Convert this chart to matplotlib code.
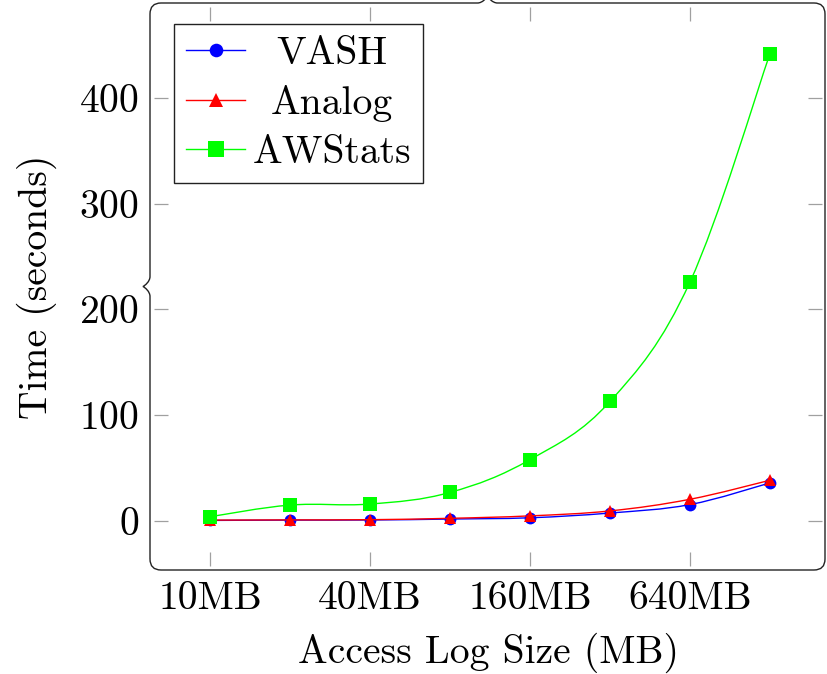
import numpy as np
import matplotlib
matplotlib.use('Agg')
import matplotlib.pyplot as plt
from matplotlib.path import Path
from matplotlib.patches import PathPatch
from matplotlib.lines import Line2D
from matplotlib.transforms import IdentityTransform

# data
sizes = [10, 20, 40, 80, 160, 320, 640, 1280]
tick_sizes = [10, 40, 160, 640]
tick_labels = ['10MB', '40MB', '160MB', '640MB']
y_ticks = [0, 100, 200, 300, 400]
vash = [0.5, 0.8, 0.9, 1.8, 3.0, 7.5, 15.5, 36]
analog = [0.8, 1.0, 1.2, 2.5, 4.8, 9.5, 20.5, 38.5]
awstats = [4, 15, 16, 27, 58, 113, 226, 442]

plt.rcParams['font.family'] = 'cmr10'
plt.rcParams['mathtext.fontset'] = 'cm'
plt.rcParams['axes.unicode_minus'] = False
plt.rcParams['axes.formatter.use_mathtext'] = True
plt.rcParams['font.size'] = 28.5


def smooth_path(x, y, tension=0.18):
    # smooth curve through the points: cubic Bezier pieces in (log2 x, y) space
    u = np.log2(np.asarray(x, float))
    y = np.asarray(y, float)
    n = len(u)
    verts = [(u[0], y[0])]
    codes = [Path.MOVETO]
    for i in range(n - 1):
        i0 = max(i - 1, 0)
        i2 = min(i + 2, n - 1)
        c1 = (u[i] + tension * (u[i + 1] - u[i0]), y[i] + tension * (y[i + 1] - y[i0]))
        c2 = (u[i + 1] - tension * (u[i2] - u[i]), y[i + 1] - tension * (y[i2] - y[i]))
        verts += [c1, c2, (u[i + 1], y[i + 1])]
        codes += [Path.CURVE4] * 3
    verts = np.array(verts)
    verts[:, 0] = 2.0 ** verts[:, 0]
    return Path(verts, codes)


fig = plt.figure(figsize=(8.27, 6.74), dpi=100)
ax = fig.add_axes([154 / 827, 1 - 566 / 674, 668 / 827, 559 / 674])
ax.set_xscale('log', base=2)

series = [
    ('VASH', vash, 'blue', 'o', 8.5),
    ('Analog', analog, 'red', '^', 9),
    ('AWStats', awstats, '#00ff00', 's', 9.5),
]
handles = []
z = 2
for name, vals, col, mk, ms in series:
    ax.add_patch(PathPatch(smooth_path(sizes, vals), facecolor='none', edgecolor=col,
                           lw=1.0, zorder=z))
    ax.plot(sizes, vals, linestyle='none', marker=mk, ms=ms, color=col,
            markeredgewidth=0, zorder=z + 0.5)
    handles.append(Line2D([], [], color=col, lw=1.0, marker=mk, ms=ms * 1.15,
                          markeredgewidth=0, label=name))
    z += 1

ax.set_xlim(10 * 2 ** -0.7, 10 * 2 ** 7.65)
ax.set_ylim(-42.6, 486)
ax.set_xticks(tick_sizes)
ax.set_xticklabels(tick_labels)
ax.minorticks_off()
ax.set_yticks(y_ticks)
ax.tick_params(which='both', direction='in', top=True, right=True, length=10,
               width=0.9, color='#a0a0a0', pad=11)
for s in ax.spines.values():
    s.set_visible(False)

ax.set_xlabel('Access Log Size (MB)', labelpad=11)
ax.set_ylabel('Time (seconds)', labelpad=16)

leg = ax.legend(handles=handles, loc='upper left', bbox_to_anchor=(20 / 668, 1 - 17 / 559),
                borderaxespad=0, handlelength=1.5, handletextpad=0.18, borderpad=0.3,
                labelspacing=0.33, fancybox=False, framealpha=1, edgecolor='#222222')
leg.get_frame().set_linewidth(1.0)
leg.set_zorder(10)

# centre the legend labels in their column
fig.canvas.draw()
r = fig.canvas.get_renderer()
texts = leg.get_texts()
ws = [t.get_window_extent(r).width for t in texts]
for t, w in zip(texts, ws):
    t.set_x((max(ws) - w) / 2)

# rounded frame with axis-break marks (display pixels)
bb = ax.get_window_extent(r)
L, R, B, T = bb.x0 - 4, bb.x1 + 3, bb.y0 - 4, bb.y1 + 4
rad = 11
mx = (L + R) / 2
my = (B + T) / 2
verts = [(L, B + rad), (L, my - 10),
         (L, my - 5), (L - 5, my - 1), (L - 7, my),
         (L - 5, my + 1), (L, my + 5), (L, my + 10),
         (L, T - rad), (L, T), (L + rad, T),
         (mx - 10, T),
         (mx - 5, T), (mx - 1, T + 5), (mx, T + 7),
         (mx + 1, T + 5), (mx + 5, T), (mx + 10, T),
         (R - rad, T), (R, T), (R, T - rad),
         (R, B + rad), (R, B), (R - rad, B),
         (L + rad, B), (L, B), (L, B + rad)]
codes = [Path.MOVETO, Path.LINETO,
         Path.CURVE4, Path.CURVE4, Path.CURVE4,
         Path.CURVE4, Path.CURVE4, Path.CURVE4,
         Path.LINETO, Path.CURVE3, Path.CURVE3,
         Path.LINETO,
         Path.CURVE4, Path.CURVE4, Path.CURVE4,
         Path.CURVE4, Path.CURVE4, Path.CURVE4,
         Path.LINETO, Path.CURVE3, Path.CURVE3,
         Path.LINETO, Path.CURVE3, Path.CURVE3,
         Path.LINETO, Path.CURVE3, Path.CURVE3]
fig.add_artist(PathPatch(Path(verts, codes), transform=IdentityTransform(),
                         facecolor='none', edgecolor='#222222', lw=1.0))

fig.savefig('out.png', dpi=100)
